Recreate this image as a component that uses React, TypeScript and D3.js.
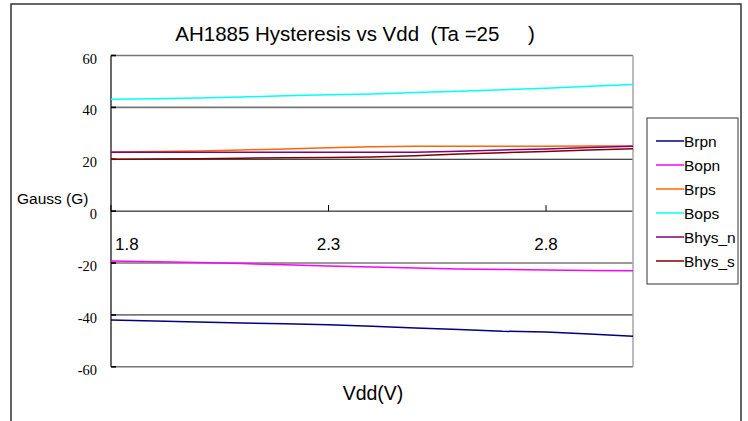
import * as d3 from 'd3';

const vdd = [1.8, 1.9, 2.0, 2.1, 2.2, 2.3, 2.4, 2.5, 2.6, 2.7, 2.8, 2.9, 3.0];

const brpn = [-42.0, -42.3, -42.7, -43.1, -43.4, -43.8, -44.4, -45.0, -45.6, -46.3, -46.6, -47.4, -48.2];
const bopn = [-19.2, -19.5, -19.8, -20.2, -20.7, -21.1, -21.5, -21.9, -22.3, -22.5, -22.7, -22.9, -23.0];
const brps = [22.8, 23.0, 23.2, 23.6, 24.0, 24.4, 24.8, 25.0, 25.0, 25.0, 25.0, 25.1, 25.1];
const bops = [43.1, 43.3, 43.6, 44.0, 44.5, 44.9, 45.2, 45.7, 46.2, 46.8, 47.4, 48.1, 48.8];
const bhysN = [22.7, 22.7, 22.7, 22.7, 22.7, 22.7, 22.7, 22.7, 23.1, 23.6, 24.0, 24.5, 25.0];
const bhysS = [20.0, 20.1, 20.2, 20.4, 20.6, 20.7, 20.9, 21.4, 22.0, 22.5, 23.0, 23.6, 24.1];

const seriesNames = ['Brpn', 'Bopn', 'Brps', 'Bops', 'Bhys_n', 'Bhys_s'];
const seriesValues = [brpn, bopn, brps, bops, bhysN, bhysS];
const seriesColors = ['#000080', '#ff00ff', '#ff6600', '#00ffff', '#800080', '#800000'];

const yTicks = [60, 40, 20, 0, -20, -40, -60];
const xTicks = [1.8, 2.3, 2.8];

const sans = '"Liberation Sans", Arial, sans-serif';
const serif = '"Liberation Serif", "Times New Roman", serif';

export default function App() {
  const x = d3.scaleLinear().domain([1.8, 3.0]).range([111, 633]);
  const y = d3.scaleLinear().domain([-60, 60]).range([366.8, 55.5]);

  const line = d3
    .line<number>()
    .x((_, i) => x(vdd[i]))
    .y((d) => y(d));

  const legendY = d3.scaleBand().domain(seriesNames).range([129, 273]);

  return (
    <svg
      width={748}
      height={421}
      style={{ position: 'absolute', left: 0, top: 0, background: '#fff' }}
    >
      {/* outer frame */}
      <rect x={11} y={4} width={730} height={430} fill="#fff" stroke="#333" strokeWidth={1.5} />

      <text
        x={355}
        y={41}
        textAnchor="middle"
        fontFamily={sans}
        fontSize={20.5}
        style={{ whiteSpace: 'pre' }}
      >
        AH1885 Hysteresis vs Vdd  (Ta =25     )
      </text>

      {/* gridlines */}
      {yTicks.map((t) => (
        <line
          key={t}
          x1={x(1.8)}
          x2={x(3.0)}
          y1={y(t)}
          y2={y(t)}
          stroke={t === 0 ? '#000' : t === 20 ? '#111' : '#777'}
          strokeWidth={t === 0 || t === 20 ? 1 : 1.6}
        />
      ))}

      {/* plot edges */}
      <line x1={x(1.8)} x2={x(1.8)} y1={y(60)} y2={y(-60)} stroke="#444" strokeWidth={1.6} />
      <line x1={x(3.0)} x2={x(3.0)} y1={y(60)} y2={y(-60)} stroke="#aaa" strokeWidth={1.6} />

      {/* y ticks and labels */}
      {yTicks.map((t) => (
        <g key={'yt' + t}>
          <line x1={x(1.8)} x2={x(1.8) + 5} y1={y(t)} y2={y(t)} stroke="#000" strokeWidth={1.6} />
          <text
            x={97}
            y={y(t) + 8}
            textAnchor="end"
            fontFamily={serif}
            fontSize={14.5}
          >
            {t}
          </text>
        </g>
      ))}

      <text x={17} y={204} fontFamily={sans} fontSize={15.5}>
        Gauss (G)
      </text>

      {/* x ticks and labels */}
      {xTicks.map((t, i) => (
        <g key={'xt' + t}>
          <line x1={x(t)} x2={x(t)} y1={y(0)} y2={y(0) - 6} stroke="#000" strokeWidth={1} />
          <text
            x={i === 0 ? x(t) + 4 : x(t)}
            y={250}
            textAnchor={i === 0 ? 'start' : 'middle'}
            fontFamily={sans}
            fontSize={17}
          >
            {t.toFixed(1)}
          </text>
        </g>
      ))}

      <text x={373} y={400} textAnchor="middle" fontFamily={sans} fontSize={19.5}>
        Vdd(V)
      </text>

      {/* series */}
      {seriesValues.map((vals, i) => (
        <path key={seriesNames[i]} d={line(vals) ?? ''} fill="none" stroke={seriesColors[i]} strokeWidth={1.5} />
      ))}

      {/* legend */}
      <rect x={647} y={118} width={91} height={166} fill="#fff" stroke="#333" strokeWidth={1} />
      {seriesNames.map((name, i) => {
        const cy = (legendY(name) ?? 0) + legendY.bandwidth() / 2;
        return (
          <g key={'lg' + name}>
            <line x1={656} x2={684} y1={cy} y2={cy} stroke={seriesColors[i]} strokeWidth={1.5} />
            <text x={684} y={cy + 5.5} fontFamily={sans} fontSize={15.5}>
              {name}
            </text>
          </g>
        );
      })}
    </svg>
  );
}
